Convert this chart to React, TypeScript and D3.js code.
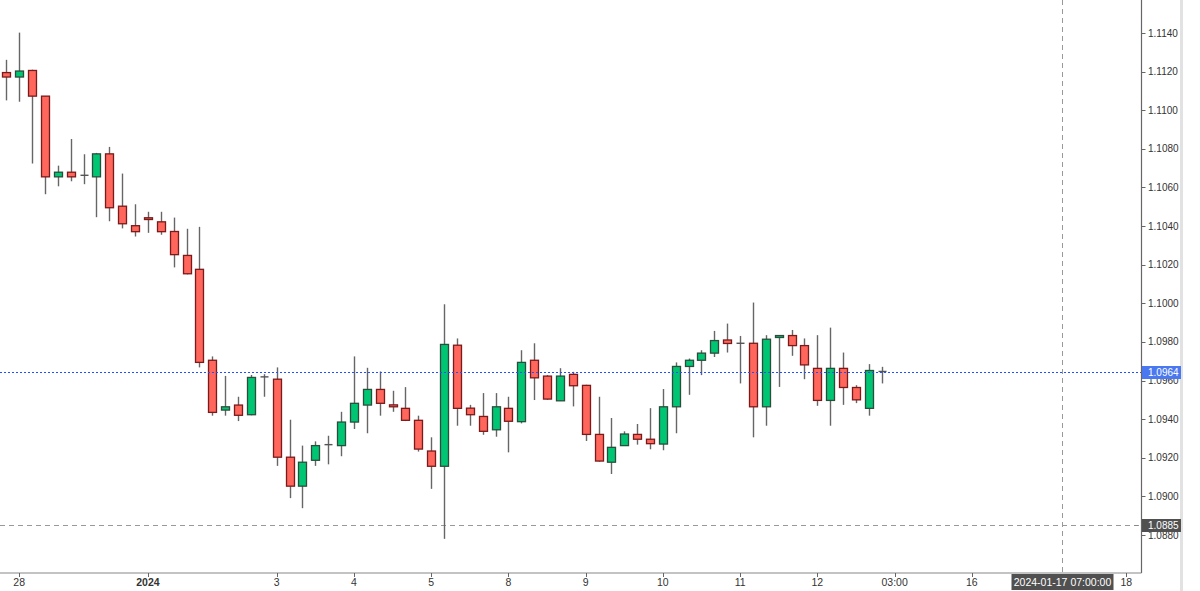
import React from "react";
import * as d3 from "d3";

// 4H EURUSD candles, index 0..68
const opens = [1.11195,1.11172,1.11206,1.11073,1.10655,1.10679,1.10663,1.10655,1.10774,1.10503,1.10402,1.10443,1.10422,1.10372,1.10248,1.10176,1.09705,1.09447,1.09473,1.09423,1.09619,1.09607,1.09203,1.09053,1.09187,1.09268,1.09263,1.09385,1.09473,1.09554,1.09474,1.09456,1.09394,1.09235,1.09156,1.09783,1.09457,1.09414,1.09345,1.09456,1.09387,1.09705,1.09623,1.09495,1.09632,1.09575,1.09321,1.09177,1.09263,1.09321,1.09296,1.09271,1.09464,1.09673,1.09705,1.09742,1.09810,1.09793,1.09793,1.09464,1.09823,1.09833,1.09781,1.09663,1.09497,1.09663,1.09564,1.09456,1.09647];
const highs = [1.11261,1.11402,1.11210,1.11073,1.10713,1.10851,1.10772,1.10779,1.10810,1.10672,1.10513,1.10474,1.10474,1.10444,1.10386,1.10396,1.09725,1.09624,1.09516,1.09629,1.09633,1.09668,1.09397,1.09263,1.09285,1.09314,1.09438,1.09725,1.09666,1.09647,1.09547,1.09566,1.09418,1.09306,1.09995,1.09818,1.09474,1.09535,1.09535,1.09516,1.09757,1.09793,1.09628,1.09664,1.09645,1.09578,1.09516,1.09406,1.09337,1.09375,1.09457,1.09556,1.09694,1.09714,1.09757,1.09857,1.09895,1.09831,1.10004,1.09835,1.09835,1.09862,1.09818,1.09835,1.09874,1.09745,1.09576,1.09685,1.09671];
const lows = [1.11051,1.11044,1.10724,1.10565,1.10606,1.10632,1.10617,1.10446,1.10425,1.10388,1.10346,1.10365,1.10355,1.10186,1.10150,1.09668,1.09418,1.09418,1.09390,1.09420,1.09516,1.09158,1.08991,1.08939,1.09158,1.09166,1.09208,1.09349,1.09327,1.09418,1.09438,1.09390,1.09232,1.09039,1.08780,1.09366,1.09366,1.09319,1.09309,1.09228,1.09378,1.09499,1.09500,1.09495,1.09466,1.09287,1.09180,1.09116,1.09262,1.09268,1.09244,1.09239,1.09327,1.09526,1.09628,1.09722,1.09745,1.09585,1.09306,1.09366,1.09567,1.09728,1.09607,1.09469,1.09366,1.09474,1.09483,1.09418,1.09585];
const closes = [1.11172,1.11203,1.11073,1.10655,1.10679,1.10655,1.10663,1.10774,1.10495,1.10412,1.10371,1.10434,1.10371,1.10252,1.10153,1.09694,1.09435,1.09464,1.09420,1.09616,1.09619,1.09203,1.09053,1.09177,1.09263,1.09268,1.09385,1.09482,1.09554,1.09482,1.09464,1.09394,1.09245,1.09156,1.09787,1.09456,1.09423,1.09337,1.09464,1.09389,1.09694,1.09614,1.09504,1.09623,1.09573,1.09321,1.09183,1.09254,1.09323,1.09296,1.09273,1.09464,1.09673,1.09705,1.09742,1.09807,1.09792,1.09793,1.09464,1.09814,1.09833,1.09781,1.09681,1.09497,1.09663,1.09564,1.09500,1.09652,1.09647];

const timeTickIdx = [1, 11, 21, 27, 33, 39, 45, 51, 57, 63, 69, 75, 87];
const timeTickLabels = ["28", "2024", "3", "4", "5", "8", "9", "10", "11", "12", "03:00", "16", "18"];
const priceTicks = [1.088, 1.09, 1.092, 1.094, 1.096, 1.098, 1.1, 1.102, 1.104, 1.106, 1.108, 1.11, 1.112, 1.114];

const lastPrice = 1.0964;
const crossPrice = 1.0885;
const crossIdx = 82;
const crossLabel = "2024-01-17 07:00:00";

const W = 1200;
const H = 591;
const plotRight = 1141.5;
const plotBottom = 573;
const FONT = "'Liberation Sans', Arial, sans-serif";

export default function App() {
  const x = d3.scaleLinear().domain([0, 87]).range([6.3, 6.3 + 87 * 12.874]);
  const y = d3.scaleLinear().domain([1.088, 1.114]).range([535, 33]);
  const bw = 8;
  const fmt = d3.format(".4f");

  const candles = opens.map((o, i) => {
    const c = closes[i];
    const up = c > o;
    const doji = Math.abs(c - o) < 0.00003;
    const cx = Math.round(x(i)) + 0.5;
    const top = y(Math.max(o, c));
    const bot = y(Math.min(o, c));
    return (
      <g key={i}>
        <line x1={cx} x2={cx} y1={y(highs[i])} y2={y(lows[i])} stroke="#666" strokeWidth={1.4} />
        {doji ? (
          <line x1={cx - bw / 2} x2={cx + bw / 2} y1={top} y2={top} stroke="#555" strokeWidth={1.4} />
        ) : (
          <rect
            x={cx - bw / 2}
            y={top}
            width={bw}
            height={Math.max(1, bot - top)}
            fill={up ? "#00c674" : "#ff675d"}
            stroke={up ? "#2c4d3b" : "#7a1a1a"}
            strokeWidth={1.3}
          />
        )}
      </g>
    );
  });

  const yLast = Math.round(y(lastPrice)) - 0.5;
  const yCross = Math.round(y(crossPrice)) + 0.5;
  const xCross = Math.round(x(crossIdx)) + 0.5;

  return (
    <div style={{ position: "fixed", left: 0, top: 0 }}>
      <svg width={W} height={H} style={{ display: "block", background: "#fff" }} fontFamily={FONT}>
        <rect x={0} y={0} width={W} height={H} fill="#fff" />
        {/* crosshair */}
        <line x1={xCross} x2={xCross} y1={0} y2={plotBottom} stroke="#999" strokeDasharray="5,4" strokeWidth={1} />
        <line x1={0} x2={plotRight} y1={yCross} y2={yCross} stroke="#999" strokeDasharray="5,4" strokeWidth={1} />
        {candles}
        {/* last price line */}
        <line x1={0} x2={plotRight} y1={yLast} y2={yLast} stroke="#1f4fff" strokeDasharray="2,2" strokeWidth={1} />
        {/* axes */}
        <line x1={plotRight} x2={plotRight} y1={0} y2={plotBottom} stroke="#666" strokeWidth={1.2} />
        <line x1={0} x2={plotRight} y1={plotBottom} y2={plotBottom} stroke="#888" strokeWidth={1.2} />
        <line x1={1181.5} x2={1181.5} y1={0} y2={H} stroke="#e2e2e2" strokeWidth={3} />
        {priceTicks.map((p) => (
          <g key={p}>
            <line x1={plotRight} x2={plotRight + 4} y1={Math.round(y(p)) + 0.5} y2={Math.round(y(p)) + 0.5} stroke="#666" />
            <text x={1148} y={y(p)} dy="0.35em" fontSize={10} fill="#333">
              {fmt(p)}
            </text>
          </g>
        ))}
        {timeTickIdx.map((t, k) => (
          <g key={t}>
            <line x1={Math.round(x(t)) + 0.5} x2={Math.round(x(t)) + 0.5} y1={plotBottom} y2={plotBottom + 4} stroke="#666" />
            <text
              x={x(t)}
              y={586}
              textAnchor="middle"
              fontSize={10.5}
              fill="#333"
              fontWeight={timeTickLabels[k] === "2024" ? "bold" : "normal"}
            >
              {timeTickLabels[k]}
            </text>
          </g>
        ))}
        {/* last price label */}
        <rect x={1142} y={yLast - 6.5} width={39} height={13} fill="#4a78f0" />
        <text x={1148} y={yLast} dy="0.35em" fontSize={10} fill="#fff">
          {fmt(lastPrice)}
        </text>
        {/* crosshair price label */}
        <line x1={1134} x2={1138} y1={yCross} y2={yCross} stroke="#888" />
        <rect x={1142} y={yCross - 6.5} width={39} height={13} fill="#505050" />
        <text x={1148} y={yCross} dy="0.35em" fontSize={10} fill="#fff">
          {fmt(crossPrice)}
        </text>
        {/* crosshair time label */}
        <rect x={xCross - 51} y={plotBottom + 1} width={102} height={16} fill="#505050" />
        <text x={xCross} y={586} textAnchor="middle" fontSize={10.5} fill="#fff">
          {crossLabel}
        </text>
      </svg>
    </div>
  );
}
